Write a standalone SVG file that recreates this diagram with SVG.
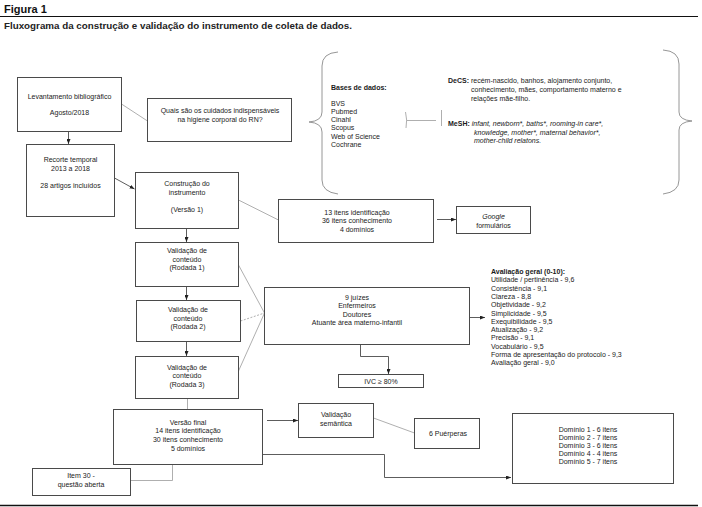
<svg xmlns="http://www.w3.org/2000/svg" width="702" height="507" viewBox="0 0 702 507">
<defs>
<style>
.box{fill:#fff;stroke:#4a4a4a;stroke-width:1}
.t{font-family:"Liberation Sans",Arial,sans-serif;font-size:7px;fill:#1a1a1a}
.c{text-anchor:middle}
.b{font-weight:bold}
.i{font-style:italic}
.ln{stroke:#9a9a9a;stroke-width:0.8;fill:none}
.dl{stroke:#9a9a9a;stroke-width:0.8;fill:none;stroke-dasharray:2 1.5}
.ar{stroke:#333;stroke-width:0.8;fill:none;marker-end:url(#ah)}
.br{stroke:#8a8a8a;stroke-width:0.9;fill:none}
</style>
<marker id="ah" markerWidth="5" markerHeight="4" refX="5" refY="2" orient="auto" markerUnits="userSpaceOnUse"><path d="M0,0 L5,2 L0,4 z" fill="#222"/></marker>
</defs>
<rect width="702" height="507" fill="#fff"/>

<g id="header">
<text x="4" y="13" style="font-family:'Liberation Sans',Arial,sans-serif;font-size:11px;font-weight:bold;fill:#111">Figura 1</text>
<line x1="0" y1="16.5" x2="698" y2="16.5" stroke="#111" stroke-width="1.2"/>
<text x="4" y="29" textLength="348" lengthAdjust="spacingAndGlyphs" style="font-family:'Liberation Sans',Arial,sans-serif;font-size:9.5px;font-weight:bold;fill:#222">Fluxograma da construção e validação do instrumento de coleta de dados.</text>
<line x1="0" y1="505.5" x2="698" y2="505.5" stroke="#111" stroke-width="1.5"/>
</g>

<g id="connectors">
<line class="ln" x1="121.5" y1="104" x2="147.5" y2="121"/>
<line class="ar" x1="68.5" y1="131.5" x2="68.5" y2="144"/>
<line class="ar" x1="114.5" y1="178" x2="134.5" y2="189"/>
<line class="ln" x1="238.5" y1="200" x2="278.5" y2="220"/>
<line class="ar" x1="437" y1="219.5" x2="456" y2="219.5"/>
<line class="ar" x1="186.5" y1="228.5" x2="186.5" y2="242"/>
<line class="ar" x1="186.5" y1="286.5" x2="186.5" y2="300"/>
<line class="ar" x1="186.5" y1="341.5" x2="186.5" y2="356"/>
<line class="ln" x1="238.5" y1="265" x2="264.5" y2="313"/>
<line class="dl" x1="240.5" y1="321" x2="264.5" y2="313"/>
<line class="ln" x1="238.5" y1="371" x2="264.5" y2="313"/>
<line class="ar" x1="469.5" y1="317.5" x2="485" y2="317.5"/>
<polyline class="ar" points="360.5,344.5 360.5,356.5 388.5,356.5 388.5,374"/>
<line class="ln" x1="187.5" y1="398.5" x2="187.5" y2="409.5"/>
<line class="ar" x1="267" y1="420.5" x2="298" y2="420.5"/>
<line class="ln" x1="373.5" y1="418" x2="414.5" y2="433"/>
<polyline class="ar" points="262.5,454.5 384.5,454.5 384.5,477.5 511,477.5"/>
<polyline class="ln" points="172.5,464.5 172.5,480.5 130.5,480.5"/>
<path class="ln" d="M405.5,112 Q407.5,120 406,128"/>
<line class="ln" x1="407" y1="120.5" x2="436" y2="120.5"/>
<line class="ln" x1="441.5" y1="110" x2="441.5" y2="126"/>
</g>

<g id="node-levantamento">
<rect class="box" x="17.5" y="77.5" width="104" height="54"/>
<text class="t c" x="69.5" y="98.5">Levantamento bibliográfico</text>
<text class="t c" x="69.5" y="115">Agosto/2018</text>
</g>

<g id="node-quais">
<rect class="box" x="147.5" y="98.5" width="144" height="43"/>
<text class="t c" x="220" y="113">Quais são os cuidados indispensáveis</text>
<text class="t c" x="220" y="121.5">na higiene corporal do RN?</text>
</g>

<g id="node-bases">
<path class="br" d="M338,52 Q322,53 322,66 L322,112 Q322,121 309,122 Q322,123 322,132 L322,180 Q322,192 338,194"/>
<path class="br" d="M663,50 Q679,51 679,64 L679,112 Q679,120 692,121 Q679,122 679,130 L679,180 Q679,192 663,194"/>
<text class="t b" x="331" y="89.5">Bases de dados:</text>
<text class="t" x="331" y="105.5">BVS</text>
<text class="t" x="331" y="113.8">Pubmed</text>
<text class="t" x="331" y="122.1">Cinahl</text>
<text class="t" x="331" y="130.4">Scopus</text>
<text class="t" x="331" y="138.7">Web of Science</text>
<text class="t" x="331" y="147">Cochrane</text>
<text class="t" x="448" y="82.5"><tspan class="b">DeCS:</tspan> recém-nascido, banhos, alojamento conjunto,</text>
<text class="t" x="471" y="91.5">conhecimento, mães, comportamento materno e</text>
<text class="t" x="471" y="100.5">relações mãe-filho.</text>
<text class="t" x="448" y="126"><tspan class="b">MeSH:</tspan> <tspan class="i">infant, newborn*, baths*, rooming-in care*,</tspan></text>
<text class="t i" x="474" y="134.5">knowledge, mother*, maternal behavior*,</text>
<text class="t i" x="474" y="143">mother-child relatons.</text>
</g>

<g id="node-recorte">
<rect class="box" x="26.5" y="144.5" width="88" height="72"/>
<text class="t c" x="70.5" y="162">Recorte temporal</text>
<text class="t c" x="70.5" y="170.5">2013 a 2018</text>
<text class="t c" x="70.5" y="187.5">28 artigos incluídos</text>
</g>

<g id="node-construcao">
<rect class="box" x="135.5" y="172.5" width="103" height="56"/>
<text class="t c" x="187" y="186">Construção do</text>
<text class="t c" x="187" y="194.5">instrumento</text>
<text class="t c" x="187" y="211.5">(Versão 1)</text>
</g>

<g id="node-itens13">
<rect class="box" x="278.5" y="199.5" width="155" height="43"/>
<text class="t c" x="357" y="214.5">13 itens identificação</text>
<text class="t c" x="357" y="223">36 itens conhecimento</text>
<text class="t c" x="357" y="231.5">4 domínios</text>
</g>

<g id="node-google">
<rect class="box" x="456.5" y="206.5" width="74" height="27"/>
<text class="t c i" x="493.5" y="218.5">Google</text>
<text class="t c" x="493.5" y="227.5">formulários</text>
</g>

<g id="node-val1">
<rect class="box" x="135.5" y="242.5" width="103" height="44"/>
<text class="t c" x="187" y="253">Validação de</text>
<text class="t c" x="187" y="261.5">conteúdo</text>
<text class="t c" x="187" y="270">(Rodada 1)</text>
</g>

<g id="node-val2">
<rect class="box" x="136.5" y="300.5" width="104" height="41"/>
<text class="t c" x="188" y="312">Validação de</text>
<text class="t c" x="188" y="320.5">conteúdo</text>
<text class="t c" x="188" y="329">(Rodada 2)</text>
</g>

<g id="node-val3">
<rect class="box" x="135.5" y="356.5" width="103" height="42"/>
<text class="t c" x="187" y="369.5">Validação de</text>
<text class="t c" x="187" y="378">conteúdo</text>
<text class="t c" x="187" y="386.5">(Rodada 3)</text>
</g>

<g id="node-juizes">
<rect class="box" x="264.5" y="287.5" width="205" height="57"/>
<text class="t c" x="357" y="299.5">9 juízes</text>
<text class="t c" x="357" y="308">Enfermeiros</text>
<text class="t c" x="357" y="316.5">Doutores</text>
<text class="t c" x="357" y="325">Atuante área materno-infantil</text>
</g>

<g id="node-avaliacao">
<text class="t b" x="491" y="274">Avaliação geral (0-10):</text>
<text class="t" x="491" y="282.3">Utilidade / pertinência - 9,6</text>
<text class="t" x="491" y="290.6">Consistência - 9,1</text>
<text class="t" x="491" y="298.9">Clareza - 8,8</text>
<text class="t" x="491" y="307.2">Objetividade - 9,2</text>
<text class="t" x="491" y="315.5">Simplicidade - 9,5</text>
<text class="t" x="491" y="323.8">Exequibilidade - 9,5</text>
<text class="t" x="491" y="332.1">Atualização - 9,2</text>
<text class="t" x="491" y="340.4">Precisão - 9,1</text>
<text class="t" x="491" y="348.7">Vocabulário - 9,5</text>
<text class="t" x="491" y="357">Forma de apresentação do protocolo - 9,3</text>
<text class="t" x="491" y="365.3">Avaliação geral - 9,0</text>
</g>

<g id="node-ivc">
<rect class="box" x="338.5" y="374.5" width="85" height="13"/>
<text class="t c" x="381" y="383.5">IVC ≥ 80%</text>
</g>

<g id="node-versao-final">
<rect class="box" x="113.5" y="409.5" width="149" height="55"/>
<text class="t c" x="188" y="424.5">Versão final</text>
<text class="t c" x="188" y="433.2">14 itens identificação</text>
<text class="t c" x="188" y="441.9">30 itens conhecimento</text>
<text class="t c" x="188" y="450.6">5 domínios</text>
</g>

<g id="node-validacao-semantica">
<rect class="box" x="298.5" y="403.5" width="75" height="34"/>
<text class="t c" x="336" y="416.5">Validação</text>
<text class="t c" x="336" y="425.5">semântica</text>
</g>

<g id="node-puerperas">
<rect class="box" x="414.5" y="418.5" width="65" height="30"/>
<text class="t c" x="448" y="435.5">6 Puérperas</text>
</g>

<g id="node-dominios">
<rect class="box" x="512.5" y="413.5" width="161" height="70"/>
<text class="t c" x="588" y="431.5">Domínio 1 - 6 itens</text>
<text class="t c" x="588" y="439.7">Domínio 2 - 7 itens</text>
<text class="t c" x="588" y="447.9">Domínio 3 - 6 itens</text>
<text class="t c" x="588" y="456.1">Domínio 4 - 4 itens</text>
<text class="t c" x="588" y="464.3">Domínio 5 - 7 itens</text>
</g>

<g id="node-item30">
<rect class="box" x="32.5" y="468.5" width="98" height="27"/>
<text class="t c" x="81" y="477.5">Item 30 -</text>
<text class="t c" x="81" y="486.5">questão aberta</text>
</g>
</svg>
